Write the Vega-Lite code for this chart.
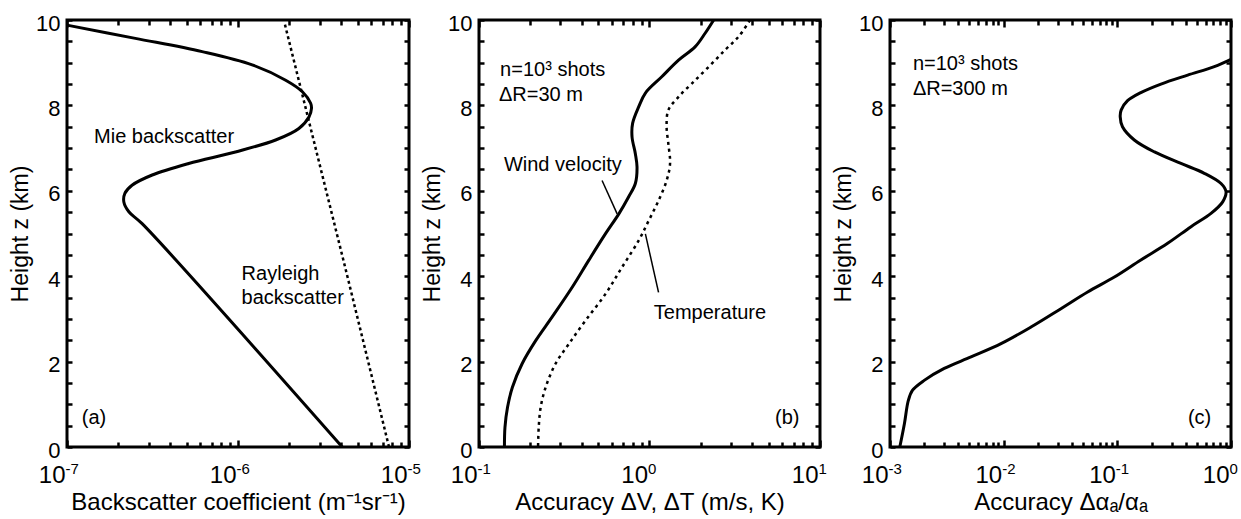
{
  "$schema": "https://vega.github.io/schema/vega-lite/v6.json",
  "padding": {"left": 8, "top": 10, "right": 0, "bottom": 0},
  "background": "white",
  "config": {
    "view": {"stroke": "black", "strokeWidth": 3},
    "axis": {"domain": false, "grid": false, "tickColor": "black", "tickWidth": 2.5, "labelFont": "Liberation Sans", "titleFont": "Liberation Sans", "labelColor": "black", "titleColor": "black", "titleFontWeight": "normal", "labelFlush": false, "labelOverlap": false},
    "text": {"font": "Liberation Sans", "fontSize": 20, "color": "black", "align": "left", "baseline": "middle"},
    "line": {"color": "black", "clip": true}
  },
  "datasets": {
    "a": [
      {"s": "Mie", "x": 1.0e-7, "z": 9.88},
      {"s": "Mie", "x": 2.51e-7, "z": 9.57},
      {"s": "Mie", "x": 6.17e-7, "z": 9.26},
      {"s": "Mie", "x": 1.21e-6, "z": 8.95},
      {"s": "Mie", "x": 1.90e-6, "z": 8.59},
      {"s": "Mie", "x": 2.38e-6, "z": 8.32},
      {"s": "Mie", "x": 2.66e-6, "z": 8.05},
      {"s": "Mie", "x": 2.69e-6, "z": 7.93},
      {"s": "Mie", "x": 2.60e-6, "z": 7.73},
      {"s": "Mie", "x": 2.27e-6, "z": 7.46},
      {"s": "Mie", "x": 1.66e-6, "z": 7.19},
      {"s": "Mie", "x": 9.66e-7, "z": 6.91},
      {"s": "Mie", "x": 5.15e-7, "z": 6.64},
      {"s": "Mie", "x": 3.15e-7, "z": 6.37},
      {"s": "Mie", "x": 2.40e-7, "z": 6.13},
      {"s": "Mie", "x": 2.18e-7, "z": 5.94},
      {"s": "Mie", "x": 2.15e-7, "z": 5.74},
      {"s": "Mie", "x": 2.30e-7, "z": 5.51},
      {"s": "Mie", "x": 2.75e-7, "z": 5.23},
      {"s": "Mie", "x": 4.07e-6, "z": 0},
      {"s": "Rayleigh", "x": 7.64e-6, "z": 0},
      {"s": "Rayleigh", "x": 4.36e-6, "z": 4.0},
      {"s": "Rayleigh", "x": 1.88e-6, "z": 9.9}
    ],
    "b": [
      {"s": "Wind", "x": 2.38, "z": 10},
      {"s": "Wind", "x": 2.12, "z": 9.69},
      {"s": "Wind", "x": 1.85, "z": 9.37},
      {"s": "Wind", "x": 1.48, "z": 9.06},
      {"s": "Wind", "x": 1.18, "z": 8.67},
      {"s": "Wind", "x": 0.946, "z": 8.29},
      {"s": "Wind", "x": 0.865, "z": 7.97},
      {"s": "Wind", "x": 0.796, "z": 7.58},
      {"s": "Wind", "x": 0.79, "z": 7.26},
      {"s": "Wind", "x": 0.826, "z": 6.87},
      {"s": "Wind", "x": 0.845, "z": 6.56},
      {"s": "Wind", "x": 0.826, "z": 6.17},
      {"s": "Wind", "x": 0.755, "z": 5.86},
      {"s": "Wind", "x": 0.661, "z": 5.46},
      {"s": "Wind", "x": 0.551, "z": 4.99},
      {"s": "Wind", "x": 0.44, "z": 4.37},
      {"s": "Wind", "x": 0.352, "z": 3.74},
      {"s": "Wind", "x": 0.268, "z": 3.04},
      {"s": "Wind", "x": 0.215, "z": 2.49},
      {"s": "Wind", "x": 0.179, "z": 1.95},
      {"s": "Wind", "x": 0.157, "z": 1.4},
      {"s": "Wind", "x": 0.147, "z": 0.93},
      {"s": "Wind", "x": 0.142, "z": 0.46},
      {"s": "Wind", "x": 0.141, "z": 0},
      {"s": "Temp", "x": 3.89, "z": 10},
      {"s": "Temp", "x": 3.33, "z": 9.61},
      {"s": "Temp", "x": 2.78, "z": 9.3},
      {"s": "Temp", "x": 2.22, "z": 8.9},
      {"s": "Temp", "x": 1.77, "z": 8.51},
      {"s": "Temp", "x": 1.48, "z": 8.2},
      {"s": "Temp", "x": 1.29, "z": 7.89},
      {"s": "Temp", "x": 1.26, "z": 7.5},
      {"s": "Temp", "x": 1.29, "z": 7.1},
      {"s": "Temp", "x": 1.32, "z": 6.64},
      {"s": "Temp", "x": 1.26, "z": 6.24},
      {"s": "Temp", "x": 1.13, "z": 5.77},
      {"s": "Temp", "x": 0.989, "z": 5.3},
      {"s": "Temp", "x": 0.865, "z": 4.84},
      {"s": "Temp", "x": 0.69, "z": 4.21},
      {"s": "Temp", "x": 0.551, "z": 3.58},
      {"s": "Temp", "x": 0.421, "z": 2.96},
      {"s": "Temp", "x": 0.336, "z": 2.41},
      {"s": "Temp", "x": 0.281, "z": 1.95},
      {"s": "Temp", "x": 0.246, "z": 1.4},
      {"s": "Temp", "x": 0.23, "z": 0.93},
      {"s": "Temp", "x": 0.224, "z": 0.46},
      {"s": "Temp", "x": 0.222, "z": 0}
    ],
    "c": [
      {"x": 1.0, "z": 9.08},
      {"x": 0.713, "z": 8.91},
      {"x": 0.416, "z": 8.71},
      {"x": 0.242, "z": 8.5},
      {"x": 0.161, "z": 8.3},
      {"x": 0.123, "z": 8.11},
      {"x": 0.108, "z": 7.89},
      {"x": 0.106, "z": 7.73},
      {"x": 0.111, "z": 7.5},
      {"x": 0.141, "z": 7.19},
      {"x": 0.212, "z": 6.91},
      {"x": 0.363, "z": 6.64},
      {"x": 0.582, "z": 6.41},
      {"x": 0.817, "z": 6.17},
      {"x": 0.904, "z": 5.98},
      {"x": 0.845, "z": 5.74},
      {"x": 0.667, "z": 5.47},
      {"x": 0.445, "z": 5.16},
      {"x": 0.277, "z": 4.77},
      {"x": 0.161, "z": 4.38},
      {"x": 0.0942, "z": 3.98},
      {"x": 0.0548, "z": 3.63},
      {"x": 0.0319, "z": 3.24},
      {"x": 0.0174, "z": 2.81},
      {"x": 0.00948, "z": 2.42},
      {"x": 0.00516, "z": 2.11},
      {"x": 0.003, "z": 1.84},
      {"x": 0.002, "z": 1.56},
      {"x": 0.00158, "z": 1.33},
      {"x": 0.00145, "z": 1.09},
      {"x": 0.00134, "z": 0.55},
      {"x": 0.00122, "z": 0}
    ],
    "labels": [
      {"p": "a", "x": 1.44e-7, "z": 7.26, "t": "Mie backscatter"},
      {"p": "a", "x": 1.05e-6, "z": 4.05, "t": "Rayleigh"},
      {"p": "a", "x": 1.05e-6, "z": 3.49, "t": "backscatter"},
      {"p": "a", "x": 1.22e-7, "z": 0.68, "t": "(a)"},
      {"p": "b", "x": 0.133, "z": 8.82, "t": "n=10³ shots"},
      {"p": "b", "x": 0.131, "z": 8.24, "t": "ΔR=30 m"},
      {"p": "b", "x": 0.14, "z": 6.61, "t": "Wind velocity"},
      {"p": "b", "x": 1.06, "z": 3.14, "t": "Temperature"},
      {"p": "b", "x": 5.45, "z": 0.68, "t": "(b)"},
      {"p": "c", "x": 0.00159, "z": 8.98, "t": "n=10³ shots"},
      {"p": "c", "x": 0.00159, "z": 8.39, "t": "ΔR=300 m"},
      {"p": "c2", "x": 0.418, "z": 0.68, "t": "(c)"}
    ],
    "leaders": [
      {"id": "w", "x": 0.527, "z": 6.24},
      {"id": "w", "x": 0.646, "z": 5.46},
      {"id": "t", "x": 0.946, "z": 4.99},
      {"id": "t", "x": 1.13, "z": 3.62}
    ]
  },
  "hconcat": [
    {
      "width": 342, "height": 427,
      "resolve": {"axis": {"x": "independent", "y": "independent"}},
      "layer": [
        {
          "data": {"name": "a"},
          "transform": [{"filter": "datum.s == 'Mie'"}],
          "mark": {"type": "line", "strokeWidth": 3, "interpolate": "catmull-rom"},
          "encoding": {
            "x": {"field": "x", "type": "quantitative", "scale": {"type": "log", "domain": [1e-7, 1e-5]},
              "axis": {"orient": "bottom", "title": "Backscatter coefficient (m⁻¹sr⁻¹)", "titleFontSize": 24, "titlePadding": 1, "labelFontSize": 24, "labelPadding": 23, "labelAlign": "right", "labelOffset": -2,
                "values": [1e-7, 2e-7, 3e-7, 4e-7, 5e-7, 6e-7, 7e-7, 8e-7, 9e-7, 1e-6, 2e-6, 3e-6, 4e-6, 5e-6, 6e-6, 7e-6, 8e-6, 9e-6, 1e-5],
                "tickSize": {"condition": {"test": "abs(log(datum.value)/LN10 - round(log(datum.value)/LN10)) < 0.001", "value": -7}, "value": -5},
                "labelExpr": "abs(log(datum.value)/LN10 - round(log(datum.value)/LN10)) < 0.001 ? '10' : ''"}},
            "y": {"field": "z", "type": "quantitative", "scale": {"domain": [0, 10]},
              "axis": {"orient": "left", "title": "Height z (km)", "titleFontSize": 23, "titlePadding": 3, "labelFontSize": 22, "labelPadding": 12, "labelOffset": 3, "tickSize": -5,
                "values": [0, 0.5, 1, 1.5, 2, 2.5, 3, 3.5, 4, 4.5, 5, 5.5, 6, 6.5, 7, 7.5, 8, 8.5, 9, 9.5, 10],
                "labelExpr": "datum.value % 2 == 0 ? datum.value : ''"}},
            "order": {"value": null}
          }
        },
        {
          "data": {"name": "a"},
          "transform": [{"filter": "datum.s == 'Rayleigh'"}],
          "mark": {"type": "line", "strokeWidth": 2.5, "strokeDash": [3, 3]},
          "encoding": {
            "x": {"field": "x", "type": "quantitative", "scale": {"type": "log", "domain": [1e-7, 1e-5]},
              "axis": {"orient": "top", "title": null, "labels": false,
                "values": [1e-7, 2e-7, 3e-7, 4e-7, 5e-7, 6e-7, 7e-7, 8e-7, 9e-7, 1e-6, 2e-6, 3e-6, 4e-6, 5e-6, 6e-6, 7e-6, 8e-6, 9e-6, 1e-5],
                "tickSize": {"condition": {"test": "abs(log(datum.value)/LN10 - round(log(datum.value)/LN10)) < 0.001", "value": -7}, "value": -5}}},
            "y": {"field": "z", "type": "quantitative", "scale": {"domain": [0, 10]},
              "axis": {"orient": "right", "title": null, "labels": false, "tickSize": -5,
                "values": [0, 0.5, 1, 1.5, 2, 2.5, 3, 3.5, 4, 4.5, 5, 5.5, 6, 6.5, 7, 7.5, 8, 8.5, 9, 9.5, 10]}},
            "order": {"value": null}
          }
        },
        {
          "data": {"name": "labels"},
          "transform": [{"filter": "datum.p == 'a'"}],
          "mark": {"type": "text"},
          "encoding": {
            "x": {"field": "x", "type": "quantitative", "scale": {"type": "log", "domain": [1e-7, 1e-5]},
              "axis": {"orient": "bottom", "title": null, "ticks": false, "tickSize": 0, "labelFontSize": 15, "labelPadding": 14, "labelAlign": "left", "labelOffset": -2,
                "values": [1e-7, 1e-6, 1e-5],
                "labelExpr": "datum.value < 1.5e-7 ? '-7' : datum.value < 1.5e-6 ? '-6' : '-5'"}},
            "y": {"field": "z", "type": "quantitative", "scale": {"domain": [0, 10]}, "axis": null},
            "text": {"field": "t"}
          }
        }
      ]
    },
    {
      "width": 341, "height": 427,
      "resolve": {"axis": {"x": "independent", "y": "independent"}},
      "layer": [
        {
          "data": {"name": "b"},
          "transform": [{"filter": "datum.s == 'Wind'"}],
          "mark": {"type": "line", "strokeWidth": 3, "interpolate": "catmull-rom"},
          "encoding": {
            "x": {"field": "x", "type": "quantitative", "scale": {"type": "log", "domain": [0.1, 10]},
              "axis": {"orient": "bottom", "title": "Accuracy ΔV, ΔT (m/s, K)", "titleFontSize": 24, "titlePadding": 1, "labelFontSize": 24, "labelPadding": 23, "labelAlign": "right", "labelOffset": -2,
                "values": [0.1, 0.2, 0.3, 0.4, 0.5, 0.6, 0.7, 0.8, 0.9, 1, 2, 3, 4, 5, 6, 7, 8, 9, 10],
                "tickSize": {"condition": {"test": "abs(log(datum.value)/LN10 - round(log(datum.value)/LN10)) < 0.001", "value": -7}, "value": -5},
                "labelExpr": "abs(log(datum.value)/LN10 - round(log(datum.value)/LN10)) < 0.001 ? '10' : ''"}},
            "y": {"field": "z", "type": "quantitative", "scale": {"domain": [0, 10]},
              "axis": {"orient": "left", "title": "Height z (km)", "titleFontSize": 23, "titlePadding": 3, "labelFontSize": 22, "labelPadding": 12, "labelOffset": 3, "tickSize": -5,
                "values": [0, 0.5, 1, 1.5, 2, 2.5, 3, 3.5, 4, 4.5, 5, 5.5, 6, 6.5, 7, 7.5, 8, 8.5, 9, 9.5, 10],
                "labelExpr": "datum.value % 2 == 0 ? datum.value : ''"}},
            "order": {"value": null}
          }
        },
        {
          "data": {"name": "b"},
          "transform": [{"filter": "datum.s == 'Temp'"}],
          "mark": {"type": "line", "strokeWidth": 2.5, "strokeDash": [3, 4], "interpolate": "catmull-rom"},
          "encoding": {
            "x": {"field": "x", "type": "quantitative", "scale": {"type": "log", "domain": [0.1, 10]},
              "axis": {"orient": "top", "title": null, "labels": false,
                "values": [0.1, 0.2, 0.3, 0.4, 0.5, 0.6, 0.7, 0.8, 0.9, 1, 2, 3, 4, 5, 6, 7, 8, 9, 10],
                "tickSize": {"condition": {"test": "abs(log(datum.value)/LN10 - round(log(datum.value)/LN10)) < 0.001", "value": -7}, "value": -5}}},
            "y": {"field": "z", "type": "quantitative", "scale": {"domain": [0, 10]},
              "axis": {"orient": "right", "title": null, "labels": false, "tickSize": -5,
                "values": [0, 0.5, 1, 1.5, 2, 2.5, 3, 3.5, 4, 4.5, 5, 5.5, 6, 6.5, 7, 7.5, 8, 8.5, 9, 9.5, 10]}},
            "order": {"value": null}
          }
        },
        {
          "data": {"name": "leaders"},
          "mark": {"type": "line", "strokeWidth": 1.5},
          "encoding": {
            "x": {"field": "x", "type": "quantitative", "scale": {"type": "log", "domain": [0.1, 10]},
              "axis": {"orient": "bottom", "title": null, "ticks": false, "tickSize": 0, "labelFontSize": 15, "labelPadding": 14, "labelAlign": "left", "labelOffset": -2,
                "values": [0.1, 1, 10],
                "labelExpr": "datum.value < 0.15 ? '-1' : datum.value < 1.5 ? '0' : '1'"}},
            "y": {"field": "z", "type": "quantitative", "scale": {"domain": [0, 10]}, "axis": null},
            "detail": {"field": "id"},
            "order": {"value": null}
          }
        },
        {
          "data": {"name": "labels"},
          "transform": [{"filter": "datum.p == 'b'"}],
          "mark": {"type": "text"},
          "encoding": {
            "x": {"field": "x", "type": "quantitative", "scale": {"type": "log", "domain": [0.1, 10]}, "axis": null},
            "y": {"field": "z", "type": "quantitative", "scale": {"domain": [0, 10]}, "axis": null},
            "text": {"field": "t"}
          }
        }
      ]
    },
    {
      "width": 341, "height": 427,
      "resolve": {"axis": {"x": "independent", "y": "independent"}},
      "layer": [
        {
          "data": {"name": "c"},
          "mark": {"type": "line", "strokeWidth": 3, "interpolate": "catmull-rom"},
          "encoding": {
            "x": {"field": "x", "type": "quantitative", "scale": {"type": "log", "domain": [0.001, 1]},
              "axis": {"orient": "bottom", "title": "Accuracy Δαₐ/αₐ", "titleFontSize": 24, "titlePadding": 1, "labelFontSize": 24, "labelPadding": 23, "labelAlign": "right", "labelOffset": -2,
                "values": [0.001, 0.002, 0.003, 0.004, 0.005, 0.006, 0.007, 0.008, 0.009, 0.01, 0.02, 0.03, 0.04, 0.05, 0.06, 0.07, 0.08, 0.09, 0.1, 0.2, 0.3, 0.4, 0.5, 0.6, 0.7, 0.8, 0.9, 1],
                "tickSize": {"condition": {"test": "abs(log(datum.value)/LN10 - round(log(datum.value)/LN10)) < 0.001", "value": -7}, "value": -5},
                "labelExpr": "abs(log(datum.value)/LN10 - round(log(datum.value)/LN10)) < 0.001 ? '10' : ''"}},
            "y": {"field": "z", "type": "quantitative", "scale": {"domain": [0, 10]},
              "axis": {"orient": "left", "title": "Height z (km)", "titleFontSize": 23, "titlePadding": 3, "labelFontSize": 22, "labelPadding": 12, "labelOffset": 3, "tickSize": -5,
                "values": [0, 0.5, 1, 1.5, 2, 2.5, 3, 3.5, 4, 4.5, 5, 5.5, 6, 6.5, 7, 7.5, 8, 8.5, 9, 9.5, 10],
                "labelExpr": "datum.value % 2 == 0 ? datum.value : ''"}},
            "order": {"value": null}
          }
        },
        {
          "data": {"name": "labels"},
          "transform": [{"filter": "datum.p == 'c'"}],
          "mark": {"type": "text"},
          "encoding": {
            "x": {"field": "x", "type": "quantitative", "scale": {"type": "log", "domain": [0.001, 1]},
              "axis": {"orient": "top", "title": null, "labels": false,
                "values": [0.001, 0.002, 0.003, 0.004, 0.005, 0.006, 0.007, 0.008, 0.009, 0.01, 0.02, 0.03, 0.04, 0.05, 0.06, 0.07, 0.08, 0.09, 0.1, 0.2, 0.3, 0.4, 0.5, 0.6, 0.7, 0.8, 0.9, 1],
                "tickSize": {"condition": {"test": "abs(log(datum.value)/LN10 - round(log(datum.value)/LN10)) < 0.001", "value": -7}, "value": -5}}},
            "y": {"field": "z", "type": "quantitative", "scale": {"domain": [0, 10]},
              "axis": {"orient": "right", "title": null, "labels": false, "tickSize": -5,
                "values": [0, 0.5, 1, 1.5, 2, 2.5, 3, 3.5, 4, 4.5, 5, 5.5, 6, 6.5, 7, 7.5, 8, 8.5, 9, 9.5, 10]}},
            "text": {"field": "t"}
          }
        },
        {
          "data": {"name": "labels"},
          "transform": [{"filter": "datum.p == 'c2'"}],
          "mark": {"type": "text"},
          "encoding": {
            "x": {"field": "x", "type": "quantitative", "scale": {"type": "log", "domain": [0.001, 1]},
              "axis": {"orient": "bottom", "title": null, "ticks": false, "tickSize": 0, "labelFontSize": 15, "labelPadding": 14, "labelAlign": "left", "labelOffset": -2,
                "values": [0.001, 0.01, 0.1, 1],
                "labelExpr": "datum.value < 0.0015 ? '-3' : datum.value < 0.015 ? '-2' : datum.value < 0.15 ? '-1' : '0'"}},
            "y": {"field": "z", "type": "quantitative", "scale": {"domain": [0, 10]}, "axis": null},
            "text": {"field": "t"}
          }
        }
      ]
    }
  ],
  "spacing": 70,
  "bounds": "flush"
}
